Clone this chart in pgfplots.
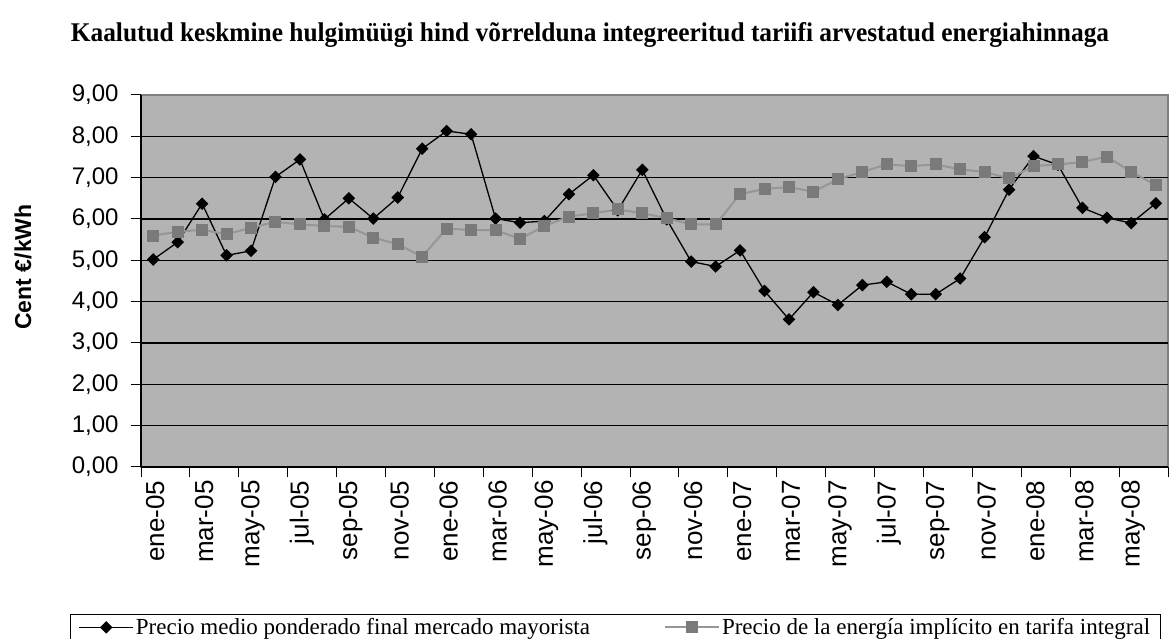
\documentclass[border=0pt]{standalone}
\usepackage{fontspec}
\setmainfont{Liberation Serif}
\newfontfamily\arial{Liberation Sans}
\usepackage{pgfplots}
\usepackage{pgfplotstable}
\pgfplotsset{compat=1.18}
\definecolor{bgg}{RGB}{179,179,179}
\definecolor{bord}{RGB}{128,128,128}
\definecolor{sqm}{RGB}{122,122,122}
\definecolor{sql}{RGB}{150,150,150}
\pgfplotstableread{
i w t
0 5.02 5.60
1 5.44 5.69
2 6.37 5.74
3 5.12 5.63
4 5.23 5.79
5 7.02 5.93
6 7.44 5.87
7 5.99 5.83
8 6.50 5.81
9 6.01 5.55
10 6.52 5.39
11 7.70 5.09
12 8.13 5.77
13 8.05 5.73
14 6.01 5.73
15 5.91 5.52
16 5.95 5.83
17 6.60 6.06
18 7.06 6.14
19 6.21 6.23
20 7.19 6.14
21 5.99 6.02
22 4.97 5.87
23 4.85 5.87
24 5.24 6.60
25 4.26 6.73
26 3.57 6.77
27 4.23 6.66
28 3.92 6.96
29 4.40 7.14
30 4.48 7.32
31 4.18 7.28
32 4.18 7.32
33 4.56 7.20
34 5.56 7.14
35 6.71 6.98
36 7.52 7.28
37 7.31 7.32
38 6.27 7.38
39 6.03 7.51
40 5.90 7.14
41 6.38 6.82
}\datatable
\begin{document}
\begin{tikzpicture}[x=1pt,y=1pt]
\useasboundingbox (0,0) rectangle (1171,639);
\node[font=\fontsize{27}{30}\selectfont\bfseries] at (590,604) {\scalebox{0.94}[1]{Kaalutud keskmine hulgimüügi hind võrrelduna integreeritud tariifi arvestatud energiahinnaga}};
\node[font=\arial\bfseries\fontsize{23}{24}\selectfont, rotate=90] at (23,372) {Cent €/kWh};
\begin{axis}[
  at={(141pt,172pt)}, anchor=south west, scale only axis,
  width=1027pt, height=372pt,
  xmin=-0.5, xmax=41.5, ymin=0, ymax=9,
  axis lines=left, axis line style={-, black, line width=1.2pt},
  axis background/.style={fill=bgg, draw=bord, line width=1.2pt},
  tick align=outside, major tick length=10pt, minor tick length=10pt,
  tick style={black, line width=1pt},
  xtick={0,2,...,40},
  xticklabels={ene-05,mar-05,may-05,jul-05,sep-05,nov-05,ene-06,mar-06,may-06,jul-06,sep-06,nov-06,ene-07,mar-07,may-07,jul-07,sep-07,nov-07,ene-08,mar-08,may-08},
  major x tick style={draw=none},
  minor xtick={-0.5,1.5,...,41.5},
  minor x tick style={black, line width=1pt},
  xticklabel style={font=\arial\fontsize{26}{26}\selectfont, rotate=90, anchor=east, yshift=-2pt},
  ytick={0,1,...,8}, extra y ticks={9}, extra y tick style={ymajorgrids=false},
  ymajorgrids, major grid style={black, line width=1.2pt},
  yticklabel style={font=\arial\fontsize{24}{24}\selectfont, xshift=-9pt},
  /pgf/number format/assume math mode=true,
  /pgf/number format/.cd, fixed, fixed zerofill, precision=2, use comma, /pgfplots/.cd,
  legend columns=2,
  legend style={at={(-0.0691,-0.395)}, anchor=north west, draw=black, line width=1.2pt, fill=white,
    font=\fontsize{23}{25}\selectfont, inner xsep=8pt, inner ysep=2pt,
    /tikz/every even column/.append style={column sep=72pt}},
  legend image code/.code={\draw[#1, mark repeat=2, mark phase=2] plot coordinates {(0pt,0pt) (27pt,0pt) (54pt,0pt)};},
]
\addplot[black, line width=1.3pt, mark=square*, mark size=3.8pt, mark options={rotate=45, solid, fill=black}] table[x=i, y=w] {\datatable};
\addlegendentry{Precio medio ponderado final mercado mayorista}
\addplot[sql, line width=2pt, mark=square*, mark size=5pt, mark options={solid, fill=sqm, draw=sqm}] table[x=i, y=t] {\datatable};
\addlegendentry{Precio de la energía implícito en tarifa integral}
\end{axis}
\end{tikzpicture}
\end{document}
